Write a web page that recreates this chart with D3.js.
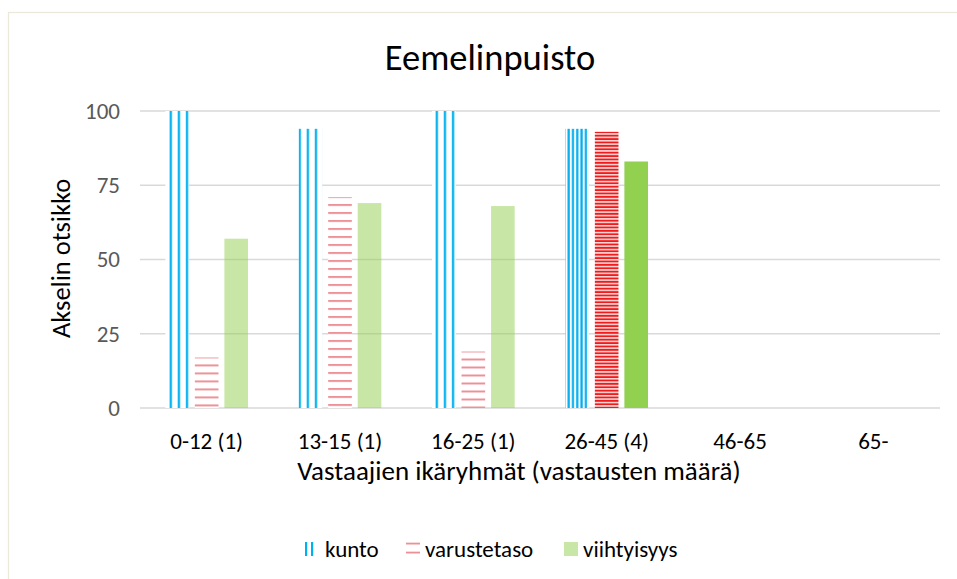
<!DOCTYPE html>
<html>
<head>
<meta charset="utf-8">
<script src="https://cdn.jsdelivr.net/npm/d3@7"></script>
<style>
  body { margin: 0; background: #fff; }
  svg { display: block; font-family: Carlito, Calibri, Lato, sans-serif; }
</style>
</head>
<body>
<div id="chart"></div>
<script>
// chart data
var categories = ["0-12 (1)", "13-15 (1)", "16-25 (1)", "26-45 (4)", "46-65", "65-"];
var seriesNames = ["kunto", "varustetaso", "viihtyisyys"];
var kunto = [100, 94, 100, 94, null, null];
var varustetaso = [17, 71, 19, 93, null, null];
var viihtyisyys = [57, 69, 68, 83, null, null];
var yTicks = [0, 25, 50, 75, 100];
// the group with more answers is drawn with the strong pattern
var strongCategories = ["26-45 (4)"];

var FONT = "Carlito, Calibri, Lato, sans-serif";
var W = 957, H = 579;
var margin = { top: 111, right: 17, bottom: 171, left: 140 };
var width = W - margin.left - margin.right,
    height = H - margin.top - margin.bottom;

var svg = d3.select("#chart").append("svg")
  .attr("width", W).attr("height", H);

var defs = svg.append("defs");

// chart area border
svg.append("rect")
  .attr("x", 8.5).attr("y", 12.5)
  .attr("width", W + 20).attr("height", H + 20)
  .attr("fill", "#fff").attr("stroke", "#ECE9DA").attr("stroke-width", 1.3);

var g = svg.append("g").attr("transform", "translate(" + margin.left + "," + margin.top + ")");

var x0 = d3.scaleBand().domain(categories).range([0, width])
  .paddingInner(0.38).paddingOuter(0.19);
var x1 = d3.scaleBand().domain(seriesNames).range([0, x0.bandwidth()])
  .paddingInner(0.2);
var y = d3.scaleLinear().domain([0, 100]).range([height, 0]);

// gridlines
g.append("g")
  .selectAll("line").data(yTicks).enter().append("line")
  .attr("x1", 0).attr("x2", width)
  .attr("y1", function (d) { return y(d); })
  .attr("y2", function (d) { return y(d); })
  .attr("stroke", "#D9D9D9").attr("stroke-width", 1.5);

// y axis labels
var yAxis = g.append("g").call(d3.axisLeft(y).tickValues(yTicks).tickSize(0).tickPadding(20));
yAxis.select(".domain").remove();
yAxis.selectAll("text").attr("fill", "#595959").style("font-size", "23px")
  .style("font-family", FONT);

// x axis labels
var xAxis = g.append("g").attr("transform", "translate(0," + height + ")")
  .call(d3.axisBottom(x0).tickSize(0).tickPadding(25));
xAxis.select(".domain").remove();
xAxis.selectAll("text").attr("fill", "#000").style("font-size", "23px")
  .style("font-family", FONT);

// patterns
function addPattern(id, w, h, bg, stroke, vertical, offset, thick) {
  var p = defs.append("pattern").attr("id", id)
    .attr("patternUnits", "userSpaceOnUse")
    .attr("width", w).attr("height", h);
  if (bg) p.append("rect").attr("width", w).attr("height", h).attr("fill", bg);
  if (vertical) {
    p.append("rect").attr("x", offset).attr("y", 0).attr("width", thick).attr("height", h).attr("fill", stroke);
  } else {
    p.append("rect").attr("x", 0).attr("y", offset).attr("width", w).attr("height", thick).attr("fill", stroke);
  }
  return p;
}

function barFill(series, cat) {
  var strong = strongCategories.indexOf(cat) >= 0;
  if (series == "viihtyisyys") return strong ? "#92D050" : "rgba(146,208,80,0.5)";
  return "url(#p-" + series + "-" + categories.indexOf(cat) + ")";
}

var rows = [];
categories.forEach(function (c, i) {
  rows.push({ cat: c, kunto: kunto[i], varustetaso: varustetaso[i], viihtyisyys: viihtyisyys[i] });
});

rows.forEach(function (r, i) {
  var strong = strongCategories.indexOf(r.cat) >= 0;
  var kx = margin.left + x0(r.cat) + x1("kunto");
  var vy = margin.top + y(r.varustetaso || 0);
  if (strong) {
    addPattern("p-kunto-" + i, 4.3, 10, "#fff", "#00ADEE", true, 0.2, 2.2).attr("x", kx);
    addPattern("p-varustetaso-" + i, 10, 3.4, "#FBE3E3", "#EE1C1C", false, 0.7, 1.9).attr("y", vy);
  } else {
    addPattern("p-kunto-" + i, 8.1, 10, "#fff", "#00B0F0", true, 1, 2.3).attr("x", kx);
    addPattern("p-varustetaso-" + i, 10, 8, "#fff", "#EA8089", false, 0, 1.7).attr("y", vy);
  }
});

// bars
var groups = g.selectAll(".grp").data(rows).enter().append("g")
  .attr("class", "grp")
  .attr("transform", function (d) { return "translate(" + x0(d.cat) + ",0)"; });

groups.selectAll("rect")
  .data(function (d) {
    return seriesNames.map(function (s) { return { key: s, value: d[s], cat: d.cat }; })
      .filter(function (e) { return e.value != null; });
  })
  .enter().append("rect")
  .attr("x", function (d) { return x1(d.key); })
  .attr("y", function (d) { return y(d.value); })
  .attr("width", x1.bandwidth())
  .attr("height", function (d) { return height - y(d.value); })
  .attr("fill", function (d) { return barFill(d.key, d.cat); });

// title
svg.append("text")
  .attr("x", 490).attr("y", 70)
  .attr("text-anchor", "middle")
  .style("font-size", "36.5px").attr("fill", "#000")
  .text("Eemelinpuisto");

// axis titles
svg.append("text")
  .attr("x", 519).attr("y", 480)
  .attr("text-anchor", "middle")
  .style("font-size", "27px").attr("fill", "#000")
  .text("Vastaajien ikäryhmät (vastausten määrä)");

svg.append("text")
  .attr("transform", "translate(70," + (margin.top + height / 2 - 1) + ") rotate(-90)")
  .attr("text-anchor", "middle")
  .style("font-size", "26.5px").attr("fill", "#000")
  .text("Akselin otsikko");

// legend
addPattern("leg-kunto", 6, 14, "#fff", "#00B0F0", true, 1, 2.2).attr("x", 304);
addPattern("leg-varustetaso", 14, 9, "#fff", "#EA8089", false, 0, 1.6).attr("y", 542.7);
var legendX = [304, 406, 564];
var legendTextX = [325, 425, 583];
var legend = svg.selectAll(".leg").data(seriesNames).enter().append("g")
  .attr("class", "leg");
legend.append("rect")
  .attr("x", function (d, i) { return legendX[i]; })
  .attr("y", 542)
  .attr("width", function (d, i) { return i == 0 ? 10 : 14; })
  .attr("height", function (d, i) { return i == 1 ? 12 : 14; })
  .attr("fill", function (d) {
    return d == "viihtyisyys" ? "rgba(146,208,80,0.5)" : "url(#leg-" + d + ")";
  });
legend.append("text")
  .attr("x", function (d, i) { return legendTextX[i]; })
  .attr("y", 557)
  .style("font-size", "23px").attr("fill", "#000")
  .text(function (d) { return d; });
</script>
</body>
</html>
